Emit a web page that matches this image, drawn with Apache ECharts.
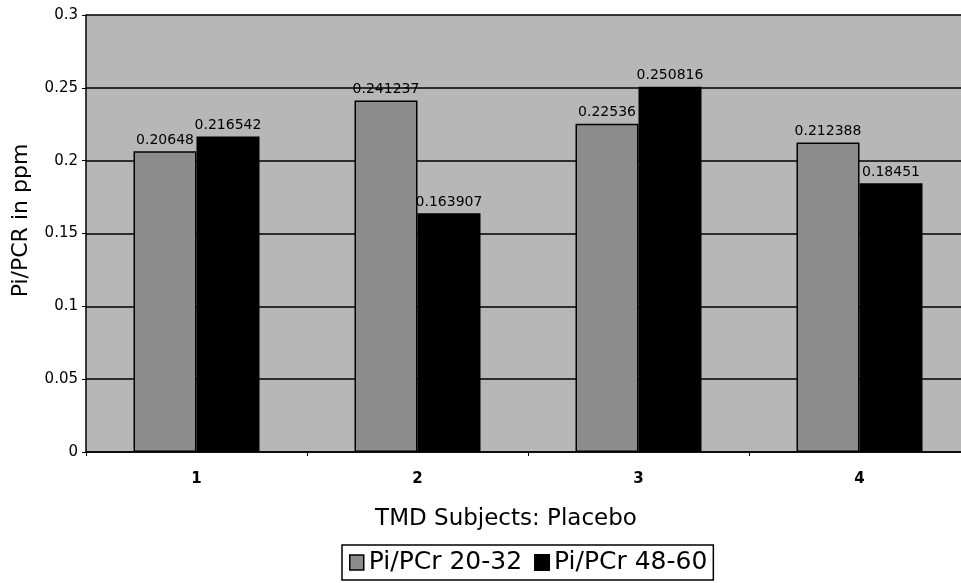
<!DOCTYPE html>
<html>
<head>
<meta charset="utf-8">
<script src="https://cdn.jsdelivr.net/npm/echarts@6/dist/echarts.min.js"></script>
<style>
  html, body { margin: 0; padding: 0; background: #fff; overflow: hidden; }
  #chart { width: 961px; height: 583px; }
</style>
</head>
<body>
<div id="chart"></div>
<script>
// Subjects on the x axis
const subjects = ['1', '2', '3', '4'];
// Pi/PCr ratios for the two spectral windows
const piPcr2032 = [0.20648, 0.241237, 0.22536, 0.212388];
const piPcr4860 = [0.216542, 0.163907, 0.250816, 0.18451];
const seriesNames = ['Pi/PCr 20-32', 'Pi/PCr 48-60'];

const FONT = 'DejaVu Sans, Liberation Sans, Arial, sans-serif';
const GREY_BAR = '#8c8c8c';

const chart = echarts.init(document.getElementById('chart'), null, { renderer: 'canvas' });

const labelStyle = {
  show: true,
  position: 'top',
  distance: 4,
  color: '#000',
  fontFamily: FONT,
  fontSize: 14,
  formatter: p => String(p.value)
};

chart.setOption({
  animation: false,
  backgroundColor: '#fff',
  grid: {
    // the plot area runs past the right edge of the canvas
    outerBoundsMode: 'none',
    left: 86, top: 15, width: 884, height: 437,
    show: true,
    backgroundColor: '#b7b7b7',
    borderWidth: 0
  },
  legend: {
    left: 342,
    top: 545,
    itemWidth: 14,
    itemHeight: 15,
    itemGap: 12,
    padding: [4, 6, 4, 7],
    borderColor: '#000',
    borderWidth: 1.5,
    textStyle: { fontFamily: FONT, fontSize: 25, lineHeight: 27, color: '#000' },
    data: [
      { name: seriesNames[0], icon: 'rect', itemStyle: { color: GREY_BAR, borderColor: '#000', borderWidth: 1.5 } },
      { name: seriesNames[1], icon: 'rect', itemStyle: { color: '#000' } }
    ]
  },
  xAxis: {
    type: 'category',
    data: subjects,
    name: 'TMD Subjects: Placebo',
    nameLocation: 'middle',
    nameGap: 56,
    nameTextStyle: { fontFamily: FONT, fontSize: 23, color: '#000', padding: [0, 44, 0, 0] },
    axisLine: { lineStyle: { color: '#000', width: 1.5 } },
    axisTick: { show: true, length: 4, lineStyle: { color: '#000' } },
    axisLabel: { margin: 20, fontFamily: FONT, fontSize: 15, fontWeight: 'bold', color: '#000' }
  },
  yAxis: {
    type: 'value',
    min: 0, max: 0.3, interval: 0.05,
    name: 'Pi/PCR in ppm',
    nameLocation: 'middle',
    nameGap: 54,
    nameRotate: 90,
    nameTextStyle: { fontFamily: FONT, fontSize: 22, color: '#000', padding: [0, 0, 0, 26] },
    axisLine: { show: true, lineStyle: { color: '#000', width: 1.5 } },
    axisTick: { show: true, length: 4, lineStyle: { color: '#000' } },
    axisLabel: { margin: 8, fontFamily: FONT, fontSize: 15, color: '#000',
      formatter: v => String(+v.toFixed(2)) },
    splitLine: { show: true, lineStyle: { color: '#000', width: 1.5 } }
  },
  series: [
    {
      name: seriesNames[0],
      type: 'bar',
      data: piPcr2032,
      barWidth: 63,
      barGap: '0%',
      itemStyle: { color: GREY_BAR, borderColor: '#000', borderWidth: 1.5 },
      label: labelStyle
    },
    {
      name: seriesNames[1],
      type: 'bar',
      data: piPcr4860,
      barWidth: 63,
      barGap: '0%',
      itemStyle: { color: '#000', borderColor: '#000', borderWidth: 1.5 },
      label: labelStyle
    }
  ]
});
</script>
</body>
</html>
